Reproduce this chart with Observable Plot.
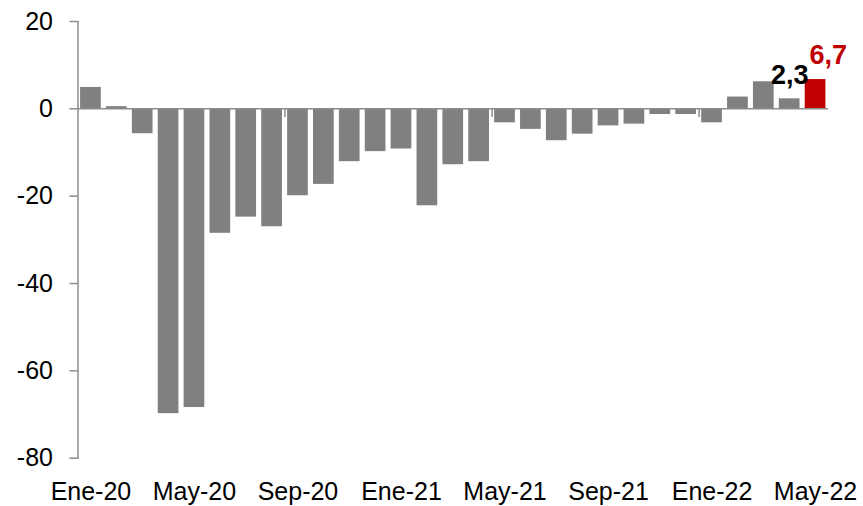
<!DOCTYPE html>
<html>
<head>
<meta charset="utf-8">
<script src="https://cdn.jsdelivr.net/npm/d3@7"></script>
<script src="https://cdn.jsdelivr.net/npm/@observablehq/plot@0.6"></script>
<style>
  html, body { margin: 0; padding: 0; background: #ffffff; }
</style>
</head>
<body>
<div id="chart"></div>
<script>
// Monthly year-on-year variation (%), Jan 2020 – May 2022
const months = [
  "Ene-20", "Feb-20", "Mar-20", "Abr-20", "May-20", "Jun-20", "Jul-20", "Ago-20", "Sep-20", "Oct-20", "Nov-20", "Dic-20",
  "Ene-21", "Feb-21", "Mar-21", "Abr-21", "May-21", "Jun-21", "Jul-21", "Ago-21", "Sep-21", "Oct-21", "Nov-21", "Dic-21",
  "Ene-22", "Feb-22", "Mar-22", "Abr-22", "May-22"
];
const values = [
  4.9, 0.5, -5.7, -69.8, -68.4, -28.5, -24.8, -27.0, -19.9, -17.3, -12.1, -9.8,
  -9.2, -22.2, -12.8, -12.1, -3.2, -4.7, -7.3, -5.8, -3.9, -3.5, -1.3, -1.3,
  -3.2, 2.7, 6.2, 2.3, 6.7
];
const tickLabels = ["Ene-20", "May-20", "Sep-20", "Ene-21", "May-21", "Sep-21", "Ene-22", "May-22"];
const yTicks = [-80, -60, -40, -20, 0, 20];
// categories whose left edge carries a small tick under the zero line
const breakMonths = ["Sep-20", "May-21", "Ene-22"];
const highlightMonth = "May-22";
const labelMonths = ["Abr-22", "May-22"];
const labelValues = [2.3, 6.7];

const W = 863, H = 506;
const mLeft = 77.5, mRight = 35, mTop = 21, mBottom = 48.3;
const step = (W - mLeft - mRight) / months.length;

const bars = months.map((m, i) => ({month: m, value: values[i]}));
const labels = labelMonths.map((m, i) => ({
  month: m,
  value: labelValues[i],
  text: labelValues[i].toFixed(1).replace(".", ",")
}));
const fmt = d => String(d);
const axisGray = "#8c8c8c";
const font = "'Liberation Sans', Arial, Helvetica, sans-serif";

const chart = Plot.plot({
  width: W,
  height: H,
  marginLeft: mLeft,
  marginRight: mRight,
  marginTop: mTop,
  marginBottom: mBottom,
  style: {background: "#ffffff", color: "#000000", fontFamily: font, fontSize: "25px", overflow: "visible"},
  x: {type: "band", domain: months, paddingInner: 0.2, paddingOuter: 0.1, round: false, label: null},
  y: {domain: [-80, 20], label: null},
  marks: [
    Plot.barY(bars, {
      x: "month",
      y: "value",
      fill: d => d.month === highlightMonth ? "#C00000" : "#808080"
    }),
    Plot.frame({anchor: "left", stroke: axisGray, strokeWidth: 1.5}),
    Plot.ruleY([0], {stroke: axisGray, strokeWidth: 1.5}),
    Plot.ruleX(breakMonths, {x: d => d, y1: 0, y2: -2, dx: -step / 2, stroke: axisGray, strokeWidth: 1.5}),
    Plot.axisY({
      ticks: yTicks, tickFormat: fmt, tickSize: 8, tickPadding: 17,
      stroke: axisGray, strokeWidth: 1.5, fill: "#000000", fontSize: 25, label: null
    }),
    Plot.axisX({
      ticks: tickLabels, tickSize: 0, tickPadding: 24,
      fill: "#000000", fontSize: 25, label: null
    }),
    Plot.text(labels.filter(d => d.month !== highlightMonth), {
      x: "month", y: "value", text: "text",
      lineAnchor: "bottom", dy: -15,
      fill: "#000000", fontSize: 27, fontWeight: "bold"
    }),
    Plot.text(labels.filter(d => d.month === highlightMonth), {
      x: "month", y: "value", text: "text",
      lineAnchor: "bottom", dy: -16, dx: 12.7,
      fill: "#C00000", fontSize: 27, fontWeight: "bold"
    })
  ]
});

document.getElementById("chart").appendChild(chart);
</script>
</body>
</html>
